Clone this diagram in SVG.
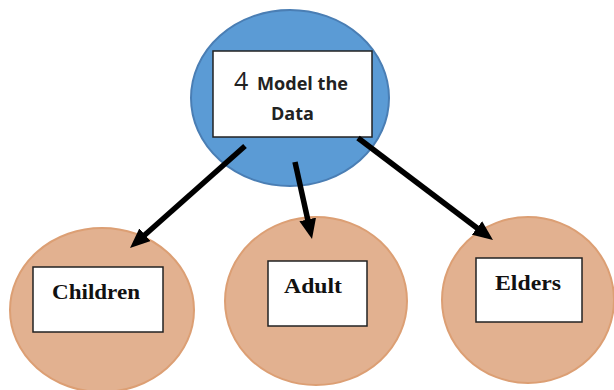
<svg xmlns="http://www.w3.org/2000/svg" width="614" height="390" viewBox="0 0 614 390">
  <defs>
    <style>
      .hub { fill: #5b9bd5; stroke: #4a7eb4; stroke-width: 2; }
      .leaf { fill: #e2b190; stroke: #dc9f74; stroke-width: 2; }
      .box { fill: #ffffff; stroke: #222222; stroke-width: 1.5; }
      .link { stroke: #000000; stroke-width: 5.5; fill: none; marker-end: url(#head); }
      .num { font-family: "Open Sans", "Liberation Sans", sans-serif; font-size: 25px; fill: #222222; }
      .title { font-family: "Open Sans", "Liberation Sans", sans-serif; font-size: 17px; font-weight: bold; fill: #222222; }
      .label { font-family: "Liberation Serif", "DejaVu Serif", serif; font-size: 22px; font-weight: bold; fill: #111111; }
    </style>
    <marker id="head" markerUnits="userSpaceOnUse" viewBox="0 0 20 17" markerWidth="20" markerHeight="17" refX="12" refY="8.5" orient="auto">
      <path d="M0,0 L20,8.5 L0,17 z" fill="#000000"/>
    </marker>
  </defs>

  <!-- central node -->
  <g id="model-data">
    <ellipse class="hub" cx="290" cy="98" rx="99" ry="88"/>
    <rect class="box" x="213" y="51" width="159" height="86"/>
    <text class="num" x="234" y="90">4</text>
    <text class="title" x="257" y="90" textLength="91" lengthAdjust="spacingAndGlyphs">Model the</text>
    <text class="title" x="271" y="120" textLength="43" lengthAdjust="spacingAndGlyphs">Data</text>
  </g>

  <!-- child nodes -->
  <g id="children">
    <ellipse class="leaf" cx="102" cy="310" rx="92" ry="82"/>
    <rect class="box" x="33" y="267" width="130" height="65"/>
    <text class="label" x="52" y="299" textLength="88" lengthAdjust="spacingAndGlyphs">Children</text>
  </g>

  <g id="adult">
    <ellipse class="leaf" cx="316" cy="301" rx="91" ry="84"/>
    <rect class="box" x="268" y="261" width="99" height="65"/>
    <text class="label" x="284" y="293" textLength="58" lengthAdjust="spacingAndGlyphs">Adult</text>
  </g>

  <g id="elders">
    <ellipse class="leaf" cx="528" cy="300" rx="86" ry="83"/>
    <rect class="box" x="476" y="258" width="106" height="64"/>
    <text class="label" x="495" y="290" textLength="66" lengthAdjust="spacingAndGlyphs">Elders</text>
  </g>

  <!-- connectors -->
  <g id="connectors">
    <line class="link" x1="245" y1="146" x2="136" y2="242.7"/>
    <line class="link" x1="295" y1="162" x2="310.3" y2="231.2"/>
    <line class="link" x1="358" y1="138" x2="486.6" y2="235.2"/>
  </g>
</svg>
